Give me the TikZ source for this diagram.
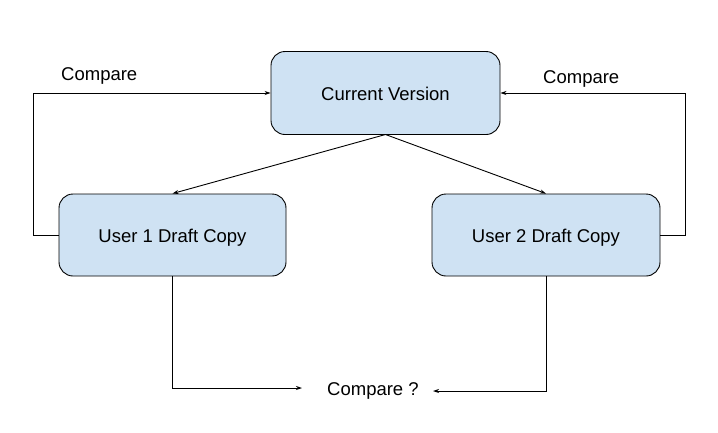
\documentclass[tikz,border=0pt]{standalone}
\usepackage{fontspec}
\setmainfont{Liberation Sans}
\usetikzlibrary{arrows.meta}
\definecolor{boxblue}{HTML}{CFE2F3}
\begin{document}
\begin{tikzpicture}[x=1pt,y=-1pt,
  box/.style={draw=black, line width=0.9pt, fill=boxblue, rounded corners=14pt, inner sep=0pt, text height=15pt, text depth=0pt, font=\fontsize{18.5}{22}\selectfont},
  conn/.style={draw=black, line width=0.9pt, -{Stealth[length=6pt,width=4pt]}},
  lbl/.style={font=\fontsize{18.5}{22}\selectfont, inner sep=0pt, anchor=base west}]
\useasboundingbox (0,0) rectangle (718,432);
\node[box, minimum width=229pt, minimum height=83pt] (cur) at (385.5,93) {Current Version};
\node[box, minimum width=227pt, minimum height=82pt] (u1) at (172.5,235) {User 1 Draft Copy};
\node[box, minimum width=228pt, minimum height=82pt] (u2) at (546,235) {User 2 Draft Copy};
\node[lbl] (c1) at (61,80) {Compare};
\node[lbl] (c2) at (543,83.5) {Compare};
\node[lbl] (cq) at (327,395) {Compare ?};
\coordinate (ctop) at (385.5,134.5);
\coordinate (e1) at (302,388);
\coordinate (e2) at (433,391);
\draw[conn] (ctop) -- (u1.north);
\draw[conn] (ctop) -- (u2.north);
\draw[conn] (u1.west) -- ++(-25,0) |- (cur.west);
\draw[conn] (u2.east) -- ++(25,0) |- (cur.east);
\draw[conn] (u1.south) |- (e1);
\draw[conn] (u2.south) |- (e2);
\end{tikzpicture}
\end{document}
